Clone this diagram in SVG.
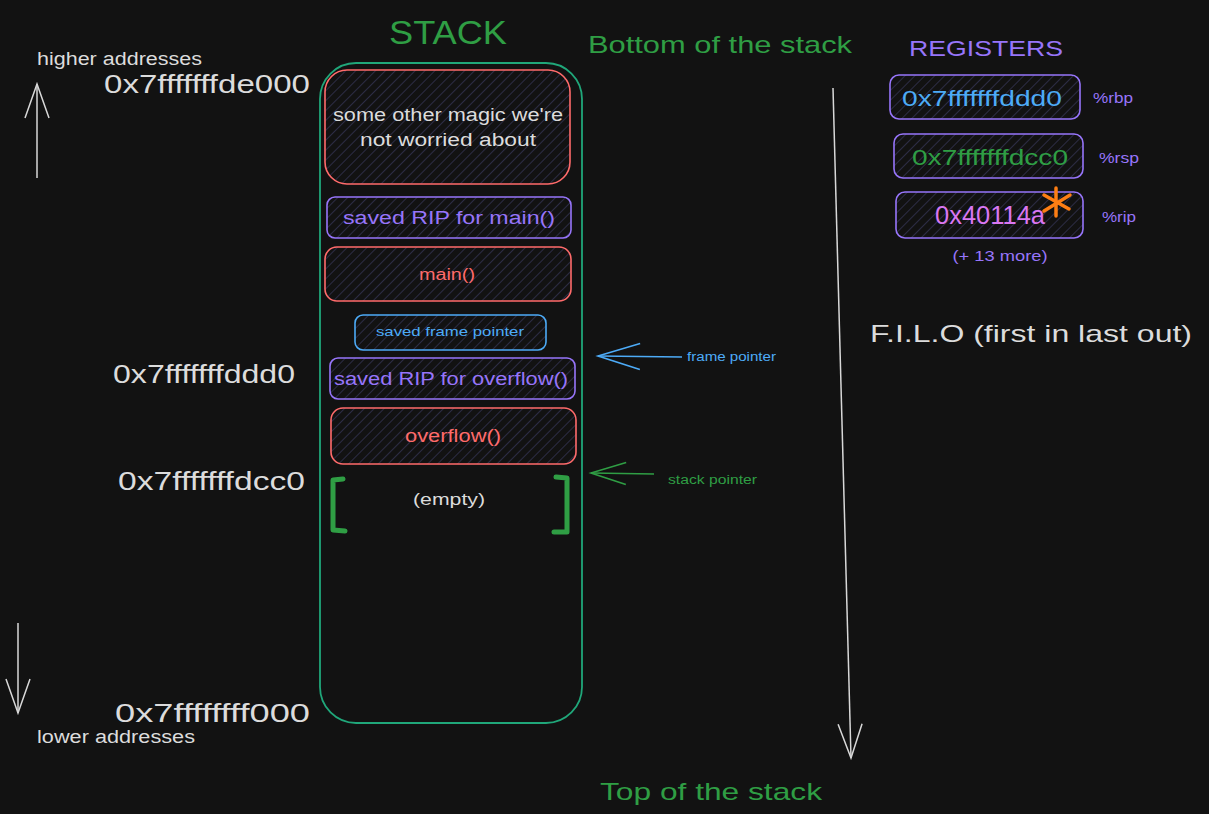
<svg xmlns="http://www.w3.org/2000/svg" width="1209" height="814" viewBox="0 0 1209 814">
<defs>
<pattern id="hatch" patternUnits="userSpaceOnUse" width="7" height="7" patternTransform="rotate(45)">
<line x1="0" y1="0" x2="0" y2="7" stroke="#3d3d66" stroke-width="1.2"/>
</pattern>
<marker id="ahw" markerWidth="40" markerHeight="30" refX="36" refY="15" orient="auto" markerUnits="userSpaceOnUse">
<path d="M2,3 L36,15 L2,27" fill="none" stroke="#d8d8d8" stroke-width="1.5"/>
</marker>
<marker id="ahb" markerWidth="46" markerHeight="32" refX="43" refY="16" orient="auto" markerUnits="userSpaceOnUse">
<path d="M1,3 L43,16 L1,29" fill="none" stroke="#4dabf7" stroke-width="1.6"/>
</marker>
<marker id="ahg" markerWidth="40" markerHeight="30" refX="36" refY="15" orient="auto" markerUnits="userSpaceOnUse">
<path d="M1,4 L36,15 L1,26" fill="none" stroke="#2f9e44" stroke-width="1.6"/>
</marker>
</defs>
<style>
text{font-family:"Liberation Sans","DejaVu Sans",sans-serif;}
.red{fill:url(#hatch);stroke:#ff6b6b;stroke-width:1.6;}
.pur{fill:url(#hatch);stroke:#9775fa;stroke-width:1.6;}
.blu{fill:url(#hatch);stroke:#4dabf7;stroke-width:1.6;}
.wt{fill:#dcdcdc;}
.gt{fill:#2f9e44;}
.pt{fill:#9775fa;}
.bt{fill:#4dabf7;}
.rt{fill:#ff6b6b;}
</style>
<rect width="1209" height="814" fill="#121212"/>

<g id="titles">
<text x="448" y="44" font-size="33" text-anchor="middle" class="gt" textLength="118" lengthAdjust="spacingAndGlyphs">STACK</text>
<text x="588" y="53" font-size="24" class="gt" textLength="264" lengthAdjust="spacingAndGlyphs">Bottom of the stack</text>
<text x="600" y="800" font-size="24" class="gt" textLength="222" lengthAdjust="spacingAndGlyphs">Top of the stack</text>
<text x="909" y="56" font-size="22" class="pt" textLength="154" lengthAdjust="spacingAndGlyphs">REGISTERS</text>
<text x="870" y="342" font-size="24" class="wt" textLength="322" lengthAdjust="spacingAndGlyphs">F.I.L.O (first in last out)</text>
</g>

<g id="address-labels">
<text x="37" y="65" font-size="18" class="wt" textLength="165" lengthAdjust="spacingAndGlyphs">higher addresses</text>
<text x="104" y="93" font-size="26" class="wt" textLength="206" lengthAdjust="spacingAndGlyphs">0x7fffffffde000</text>
<text x="113" y="383" font-size="26" class="wt" textLength="182" lengthAdjust="spacingAndGlyphs">0x7fffffffddd0</text>
<text x="118" y="490" font-size="26" class="wt" textLength="187" lengthAdjust="spacingAndGlyphs">0x7fffffffdcc0</text>
<text x="115" y="722" font-size="26" class="wt" textLength="195" lengthAdjust="spacingAndGlyphs">0x7ffffffff000</text>
<text x="37" y="743" font-size="18" class="wt" textLength="158" lengthAdjust="spacingAndGlyphs">lower addresses</text>
</g>

<g id="stack">
<rect x="320" y="63" width="262" height="660" rx="36" fill="none" stroke="#20a77a" stroke-width="1.8"/>
</g>

<g id="node-magic">
<rect x="325" y="70" width="245" height="114" rx="22" class="red"/>
<text x="448" y="121" font-size="18" text-anchor="middle" class="wt" textLength="230" lengthAdjust="spacingAndGlyphs">some other magic we're</text>
<text x="448" y="146" font-size="18" text-anchor="middle" class="wt" textLength="176" lengthAdjust="spacingAndGlyphs">not worried about</text>
</g>
<g id="node-rip-main">
<rect x="327" y="197" width="244" height="41" rx="8" class="pur"/>
<text x="449" y="224" font-size="18" text-anchor="middle" class="pt" textLength="212" lengthAdjust="spacingAndGlyphs">saved RIP for main()</text>
</g>
<g id="node-main">
<rect x="325" y="247" width="246" height="54" rx="12" class="red"/>
<text x="447" y="280" font-size="16" text-anchor="middle" class="rt" textLength="56" lengthAdjust="spacingAndGlyphs">main()</text>
</g>
<g id="node-sfp">
<rect x="355" y="315" width="191" height="35" rx="8" class="blu"/>
<text x="450" y="336" font-size="13" text-anchor="middle" class="bt" textLength="148" lengthAdjust="spacingAndGlyphs">saved frame pointer</text>
</g>
<g id="node-rip-overflow">
<rect x="330" y="358" width="245" height="41" rx="8" class="pur"/>
<text x="451" y="385" font-size="18" text-anchor="middle" class="pt" textLength="234" lengthAdjust="spacingAndGlyphs">saved RIP for overflow()</text>
</g>
<g id="node-overflow">
<rect x="331" y="408" width="245" height="56" rx="12" class="red"/>
<text x="453" y="442" font-size="18" text-anchor="middle" class="rt" textLength="96" lengthAdjust="spacingAndGlyphs">overflow()</text>
</g>
<g id="node-empty">
<path d="M343,479 L333,480 L333,530 L345,531" fill="none" stroke="#2f9e44" stroke-width="5" stroke-linecap="round" stroke-linejoin="round"/>
<path d="M556,477 L567,478 L567,532 L554,532" fill="none" stroke="#2f9e44" stroke-width="5" stroke-linecap="round" stroke-linejoin="round"/>
<text x="449" y="505" font-size="17" text-anchor="middle" class="wt" textLength="72" lengthAdjust="spacingAndGlyphs">(empty)</text>
</g>

<g id="registers">
<g id="reg-rbp">
<rect x="890" y="75" width="190" height="44" rx="9" class="pur"/>
<text x="982" y="106" font-size="22" text-anchor="middle" class="bt" textLength="160" lengthAdjust="spacingAndGlyphs">0x7fffffffddd0</text>
<text x="1093" y="103" font-size="14" class="pt" textLength="40" lengthAdjust="spacingAndGlyphs">%rbp</text>
</g>
<g id="reg-rsp">
<rect x="894" y="134" width="189" height="44" rx="9" class="pur"/>
<text x="990" y="165" font-size="22" text-anchor="middle" class="gt" textLength="156" lengthAdjust="spacingAndGlyphs">0x7fffffffdcc0</text>
<text x="1099" y="163" font-size="14" class="pt" textLength="40" lengthAdjust="spacingAndGlyphs">%rsp</text>
</g>
<g id="reg-rip">
<rect x="896" y="192" width="187" height="46" rx="9" class="pur"/>
<text x="990" y="224" font-size="25" text-anchor="middle" fill="#da77f2" textLength="110" lengthAdjust="spacingAndGlyphs">0x40114a</text>
<g stroke="#fd7e14" stroke-width="3.5" stroke-linecap="round">
<line x1="1056" y1="188" x2="1056" y2="216"/>
<line x1="1044" y1="195" x2="1069" y2="209"/>
<line x1="1044" y1="211" x2="1070" y2="195"/>
</g>
<text x="1102" y="222" font-size="14" class="pt" textLength="34" lengthAdjust="spacingAndGlyphs">%rip</text>
</g>
<text x="1000" y="261" font-size="14" text-anchor="middle" class="pt" textLength="95" lengthAdjust="spacingAndGlyphs">(+ 13 more)</text>
</g>

<g id="connectors" fill="none">
<line x1="37" y1="178" x2="37" y2="84" stroke="#d8d8d8" stroke-width="1.5" marker-end="url(#ahw)"/>
<line x1="18" y1="623" x2="18" y2="713" stroke="#d8d8d8" stroke-width="1.5" marker-end="url(#ahw)"/>
<line x1="833" y1="88" x2="851" y2="758" stroke="#d8d8d8" stroke-width="1.5" marker-end="url(#ahw)"/>
<line x1="682" y1="357" x2="598" y2="356" stroke="#4dabf7" stroke-width="1.6" marker-end="url(#ahb)"/>
<line x1="654" y1="474" x2="591" y2="473" stroke="#2f9e44" stroke-width="1.6" marker-end="url(#ahg)"/>
</g>
<g id="connector-labels">
<text x="687" y="361" font-size="12" class="bt" textLength="89" lengthAdjust="spacingAndGlyphs">frame pointer</text>
<text x="668" y="484" font-size="12" class="gt" textLength="89" lengthAdjust="spacingAndGlyphs">stack pointer</text>
</g>
</svg>
